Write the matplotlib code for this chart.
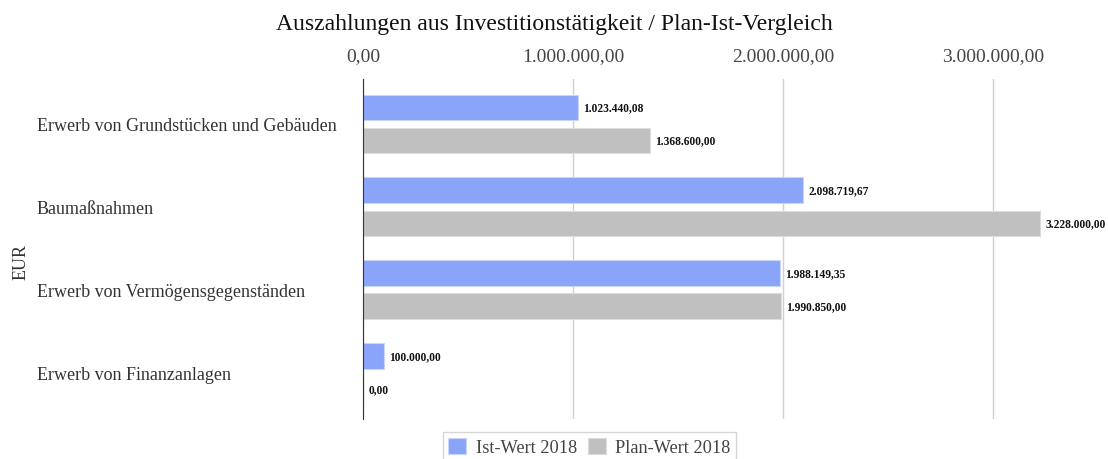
import numpy as np
import matplotlib
matplotlib.use('Agg')
import matplotlib.pyplot as plt

plt.rcParams['font.family'] = ['Liberation Serif', 'DejaVu Serif']

# Daten
kategorien = ['Erwerb von Grundstücken und Gebäuden', 'Baumaßnahmen',
              'Erwerb von Vermögensgegenständen', 'Erwerb von Finanzanlagen']
ist_2018 = [1023440.08, 2098719.67, 1988149.35, 100000.00]
plan_2018 = [1368600.00, 3228000.00, 1990850.00, 0.00]
x_ticks = [0, 1000000, 2000000, 3000000]


def de_fmt(v):
    s = f'{v:,.2f}'
    return s.replace(',', '#').replace('.', ',').replace('#', '.')


fig = plt.figure(figsize=(11.08, 4.6), dpi=100)
ax = fig.add_axes([0.3276, 0.087, 0.663, 0.739])

y = np.arange(len(kategorien))
h = 0.307
off = 0.20
b1 = ax.barh(y - off, ist_2018, height=h, color='#89a4f8', edgecolor='#c9d6fb',
             linewidth=0.8, label='Ist-Wert 2018', zorder=3)
b2 = ax.barh(y + off, plan_2018, height=h, color='#c0c0c0', edgecolor='#dcdcdc',
             linewidth=0.8, label='Plan-Wert 2018', zorder=3)

for bars, vals in [(b1, ist_2018), (b2, plan_2018)]:
    for bar, v in zip(bars, vals):
        ax.text(v + 25000, bar.get_y() + bar.get_height() / 2, de_fmt(v),
                va='center', ha='left', fontsize=8.3, fontweight='bold', color='#111111')

ax.set_xlim(0, 3500000)
ax.set_ylim(3.56, -0.54)
ax.set_xticks(x_ticks)
ax.set_xticklabels([de_fmt(t) for t in x_ticks])
ax.xaxis.tick_top()
ax.tick_params(axis='x', length=0, pad=11, labelsize=14, labelcolor='#444444')
ax.set_yticks(y)
ax.set_yticklabels(kategorien, fontsize=13, color='#333333', ha='left')
ax.tick_params(axis='y', length=0, pad=235)
ax.grid(axis='x', color='#d0d0d0', linewidth=1, zorder=0)
for s in ['top', 'right', 'bottom']:
    ax.spines[s].set_visible(False)
ax.spines['left'].set_color('#333333')
ax.spines['left'].set_zorder(4)

fig.text(0.019, 0.43, 'EUR', rotation=90, fontsize=13, color='#333333',
         ha='center', va='center')
fig.suptitle('Auszahlungen aus Investitionstätigkeit / Plan-Ist-Vergleich',
             fontsize=17, y=0.97, color='#111111')

fig.legend(loc='upper center', bbox_to_anchor=(0.532, 0.078), ncol=2,
           fontsize=13.2, frameon=True, fancybox=False, edgecolor='#cccccc',
           handlelength=1.0, handleheight=1.0, columnspacing=0.6,
           handletextpad=0.5, borderpad=0.3, labelcolor='#444444')

fig.savefig('out.png', dpi=100)
